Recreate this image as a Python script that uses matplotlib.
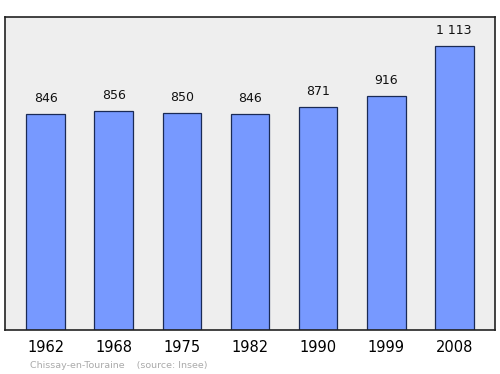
import matplotlib
matplotlib.use("Agg")
import matplotlib.pyplot as plt

# population data
years = ["1962", "1968", "1975", "1982", "1990", "1999", "2008"]
population = [846, 856, 850, 846, 871, 916, 1113]
labels = ["846", "856", "850", "846", "871", "916", "1 113"]

fig = plt.figure(figsize=(5, 3.74), dpi=100)
ax = fig.add_axes([0.01, 0.1176, 0.98, 0.837])
ax.set_facecolor("#eeeeee")

x = range(len(years))
ax.bar(x, population, width=0.57, color="#7799ff", edgecolor="#1a2a55", linewidth=0.9, zorder=2)

for i, v in enumerate(population):
    ax.text(i, v + 35, labels[i], ha="center", va="bottom", fontsize=9, color="#111111")

ax.set_xlim(-0.6, 6.6)
ax.set_ylim(0, 1225)
ax.set_yticks([])
ax.set_xticks(list(x))
ax.set_xticklabels(years, fontsize=10.5)
ax.tick_params(axis="x", length=0, pad=7)
for s in ax.spines.values():
    s.set_color("#222222")
    s.set_linewidth(1.2)

fig.text(0.06, 0.015, "Chissay-en-Touraine    (source: Insee)", fontsize=6.8, color="#aaaaaa")

fig.savefig("out.png", dpi=100)
